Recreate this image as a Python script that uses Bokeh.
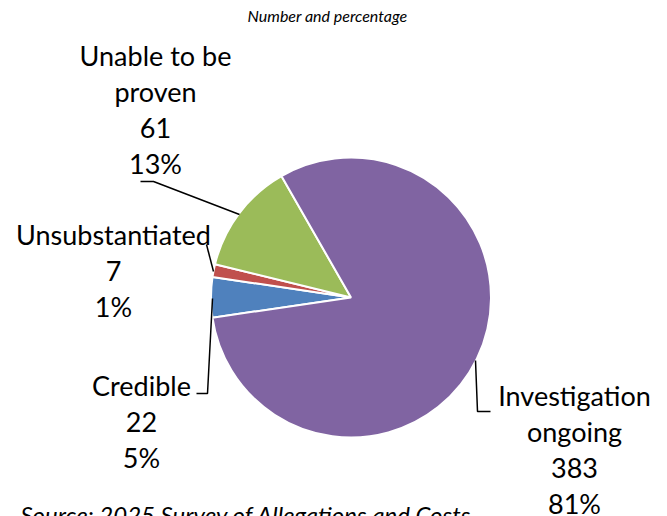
import math
from bokeh.plotting import figure
from bokeh.models import Range1d, ColumnDataSource
from bokeh.core.properties import value
from bokeh.embed import file_html
from bokeh.resources import INLINE

# ---- data ----
categories = ["Credible", "Unsubstantiated", "Unable to be proven", "Investigation ongoing"]
counts = [22, 7, 61, 383]
percent_labels = ["5%", "1%", "13%", "81%"]
name_lines = [["Credible"], ["Unsubstantiated"], ["Unable to be", "proven"], ["Investigation", "ongoing"]]
colors = ["#4F81BD", "#C0504D", "#9BBB59", "#8064A2"]
title_text = "Number and percentage"
source_text = "Source: 2025 Survey of Allegations and Costs"

W, H = 667, 516
FONT = "Lato"

def fx(px):
    return px

def fy(py):
    return H - py

p = figure(width=W, height=H, output_backend="svg", toolbar_location=None,
           x_range=Range1d(0, W), y_range=Range1d(0, H), min_border=0)
p.axis.visible = False
p.grid.visible = False
p.outline_line_color = None
p.background_fill_color = "white"
p.border_fill_color = "white"

# pie
cx, cy, r = fx(350.5), fy(297), 140
start0 = math.radians(188.3)
total = sum(counts)
starts, ends = [], []
a = start0
for c in counts:
    sweep = 2 * math.pi * c / total
    starts.append(a)
    ends.append(a - sweep)
    a -= sweep
src = ColumnDataSource(dict(start=starts, end=ends, color=colors))
p.wedge(x=cx, y=cy, radius=r, start_angle="start", end_angle="end", direction="clock",
        fill_color="color", line_color="white", line_width=2, source=src)

# labels: center x and first-line center y (page coords)
label_pos = [(141, 385), (113, 234), (155, 55), (574, 395)]
line_h = 36
for i in range(len(categories)):
    lines = name_lines[i] + [str(counts[i]), percent_labels[i]]
    lx, ly = label_pos[i]
    xs = [fx(lx)] * len(lines)
    ys = [fy(ly + k * line_h) for k in range(len(lines))]
    p.text(x=xs, y=ys, text=lines, text_font=value(FONT), text_font_size="27px",
           text_align="center", text_baseline="middle", text_color="black")

# leader lines (page coords)
leaders = [
    [(196, 393), (207, 393), (212, 298)],
    [(206, 244), (213, 271)],
    [(140, 181), (153, 181), (239, 214)],
    [(475, 360), (477, 411), (490, 411)],
]
for pts in leaders:
    p.line(x=[fx(a) for a, b in pts], y=[fy(b) for a, b in pts], line_color="black", line_width=1.5)

# title
p.text(x=[fx(327)], y=[fy(15)], text=[title_text], text_font=value(FONT), text_font_style="italic",
       text_font_size="16px", text_align="center", text_baseline="middle", text_color="black")

# source
p.text(x=[fx(20)], y=[fy(499)], text=[source_text], text_font=value(FONT), text_font_style="italic",
       text_font_size="24px", text_align="left", text_baseline="top", text_color="black")

open("out.html", "w").write(file_html(p, INLINE))
